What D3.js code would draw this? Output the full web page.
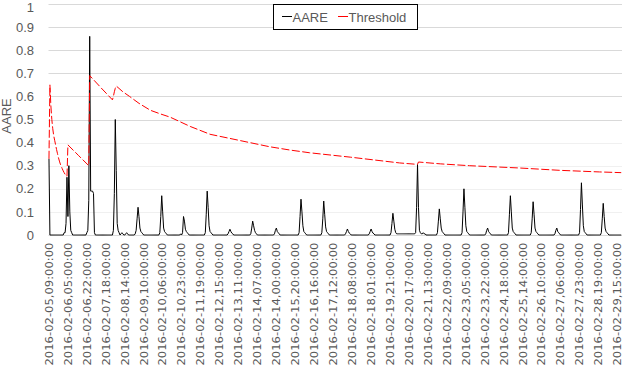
<!DOCTYPE html>
<html><head><meta charset="utf-8">
<script src="https://cdn.jsdelivr.net/npm/d3@7"></script>
<style>
html,body{margin:0;padding:0;background:#fff;}
svg{display:block;font-family:"Liberation Sans",Arial,sans-serif;}
</style></head>
<body><svg id="c" width="626" height="370"></svg>
<script>
// AARE, one value per hourly category (rows of 20 categories)
const aare = [
 .33,0,0,0,0,0,0,0,0,0,0,0,0,0,0,0,.01,.01,.05,.25,
 .08,.30,.10,.02,.01,0,0,0,0,0,0,0,0,0,0,0,0,0,0,0,
 .01,.02,.15,.86,.19,.19,.19,.18,.01,0,0,0,0,0,0,0,0,0,0,0,
 0,0,0,0,0,0,0,0,.02,.18,.50,.28,.05,.02,.01,0,.005,.01,.005,0,
 0,.005,.01,.005,0,0,0,0,0,0,0,.005,.02,.07,.12,.08,.03,.015,.01,.005,
 0,0,0,0,0,0,0,0,0,0,0,0,0,0,0,0,0,.01,.08,.17,
 .10,.03,.015,.01,.005,0,0,0,0,0,0,0,0,0,0,0,0,0,0,.005,
 0,.01,.08,.06,.025,.015,.01,.005,0,0,0,0,0,0,0,0,0,0,0,0,
 0,0,0,0,0,.01,.09,.19,.12,.04,.015,.01,.005,0,0,0,0,0,0,0,
 0,0,0,0,0,0,0,0,0,.005,.015,.025,.015,.008,.005,0,0,0,0,0,
 0,0,0,0,0,0,0,0,0,0,0,0,0,.005,.03,.06,.04,.02,.01,.005,
 0,0,0,0,0,0,0,0,0,0,0,0,0,0,0,0,0,0,.005,.02,
 .03,.015,.01,.005,0,0,0,0,0,0,0,0,0,0,0,0,0,0,0,0,
 0,0,0,0,.01,.08,.155,.10,.04,.015,.01,.005,0,0,0,0,0,0,0,0,
 0,0,0,0,0,0,0,0,.01,.07,.147,.09,.035,.015,.01,.005,0,0,0,0,
 0,0,0,0,0,0,0,0,0,0,0,0,0,.005,.015,.026,.015,.008,.005,0,
 0,0,0,0,0,0,0,0,0,0,0,0,0,0,0,0,0,0,.005,.015,
 .026,.015,.008,.005,0,0,0,0,0,0,0,0,0,0,0,0,0,0,0,0,
 0,.01,.05,.094,.06,.025,.01,.005,.005,.005,.005,.005,.005,.005,.005,.005,.005,.005,.005,.005,
 .005,.005,.005,.005,.005,.005,.005,.01,.12,.305,.12,.02,.01,.005,.005,.01,.005,.005,0,0,
 0,0,0,0,0,0,0,0,0,0,.01,.06,.113,.07,.03,.015,.01,.005,0,0,
 0,0,0,0,0,0,0,0,0,0,0,0,0,0,0,0,.01,.10,.20,.12,
 .04,.015,.01,.005,0,0,0,0,0,0,0,0,0,0,0,0,0,0,0,0,
 0,.005,.02,.03,.015,.01,.005,0,0,0,0,0,0,0,0,0,0,0,0,0,
 0,0,0,0,0,.01,.09,.17,.10,.03,.015,.01,.005,0,0,0,0,0,0,0,
 0,0,0,0,0,0,0,0,0,.01,.07,.144,.09,.03,.015,.01,.005,0,0,0,
 0,0,0,0,0,0,0,0,0,0,0,0,0,0,.005,.02,.03,.015,.01,.005,
 0,0,0,0,0,0,0,0,0,0,0,0,0,0,0,0,0,0,0,0,
 .01,.11,.226,.13,.04,.015,.01,.005,0,0,0,0,0,0,0,0,0,0,0,0,
 0,0,0,.01,.07,.137,.08,.03,.015,.01,.005,0,0,0,0,0,0,0,0,0,
 0,0,0,0,0
];

// Threshold, read at these category indices
const thresholdIdx = [0,1,2,3,4,5,6,7,8,9,10,11,12,13,14,15,16,17,18,19,20,31,42,43,55,67,68,69,70,71,78,85,95,107,117,128,149,170,191,212,233,254,275,318,370,388,389,390,413,444,497,539,581,604];
const thresholdVal = [.33,.65,.56,.50,.46,.43,.41,.39,.37,.352,.335,.32,.307,.297,.287,.278,.27,.263,.257,.254,.39,.345,.30,.69,.637,.585,.60,.62,.635,.645,.62,.60,.57,.54,.525,.51,.47,.436,.418,.40,.382,.368,.356,.337,.312,.306,.306,.316,.308,.30,.29,.28,.273,.27];

// Category-axis labels and the categories they sit on
const tickIdx = [0,20,40,60,80,100,120,140,160,180,200,220,240,260,280,300,320,340,360,380,400,420,440,460,480,500,520,540,560,580,600];
const tickLabels = ["2016-02-05,09:00:00","2016-02-06,05:00:00","2016-02-06,22:00:00","2016-02-07,18:00:00","2016-02-08,14:00:00","2016-02-09,10:00:00","2016-02-10,06:00:00","2016-02-10,23:00:00","2016-02-11,19:00:00","2016-02-12,15:00:00","2016-02-13,11:00:00","2016-02-14,07:00:00","2016-02-14,00:00:00","2016-02-15,20:00:00","2016-02-16,16:00:00","2016-02-17,12:00:00","2016-02-18,08:00:00","2016-02-18,01:00:00","2016-02-19,21:00:00","2016-02-20,17:00:00","2016-02-21,13:00:00","2016-02-22,09:00:00","2016-02-23,05:00:00","2016-02-23,22:00:00","2016-02-24,18:00:00","2016-02-25,14:00:00","2016-02-26,10:00:00","2016-02-27,06:00:00","2016-02-27,23:00:00","2016-02-28,19:00:00","2016-02-29,15:00:00"];
const yTicks = [0,0.1,0.2,0.3,0.4,0.5,0.6,0.7,0.8,0.9,1];
const seriesNames = ["AARE","Threshold"];
const seriesColors = ["#000000","#ff0000"];

const svg = d3.select("#c");
const x = d3.scaleBand().domain(d3.range(aare.length)).range([48.5, 621.7]);
const xc = i => x(i) + x.bandwidth()/2;
const y = d3.scaleLinear().domain([0,1]).range([235, 4]);

// gridlines
svg.append("g").selectAll("line").data(yTicks.filter(d=>d>0)).join("line")
  .attr("x1",48.5).attr("x2",622)
  .attr("y1",d=>Math.round(y(d))+0.5).attr("y2",d=>Math.round(y(d))+0.5)
  .attr("stroke",d=>d>=0.45?"#d9d9d9":"#f0f0f0").attr("stroke-width",1);

// y axis labels
const ya = svg.append("g").attr("transform","translate(34,0)")
  .call(d3.axisLeft(y).tickValues(yTicks).tickSize(0).tickPadding(0).tickFormat(d3.format(".1~f")));
ya.select(".domain").remove();
ya.selectAll("text").attr("fill","#595959").style("font-size","13px")
  .style("font-family","'Liberation Sans',Arial,sans-serif")
  .attr("y",d=>d===1?3:0);

// x axis
const xa = svg.append("g").attr("transform","translate(0,235.5)")
  .call(d3.axisBottom(x).tickValues(tickIdx).tickSize(0).tickFormat((d,i)=>tickLabels[i]));
xa.select(".domain").attr("stroke","#d9d9d9").attr("d","M48.5,0H622");
xa.selectAll("text")
  .attr("fill","#595959").style("font-size","10.5px").style("font-family","'DejaVu Sans',sans-serif")
  .attr("transform","rotate(-90)").attr("text-anchor","end")
  .attr("x",-7).attr("y",0).attr("dy","0.36em")
  .attr("textLength",123).attr("lengthAdjust","spacingAndGlyphs");

// y title
svg.append("text").attr("transform","translate(11,116) rotate(-90)")
  .attr("text-anchor","middle").attr("fill","#595959").style("font-size","13px").text("AARE");

// lines
const lineA = d3.line().x((d,i)=>xc(i)).y(d=>y(d));
svg.append("path").datum(aare).attr("d",lineA).attr("fill","none")
  .attr("stroke",seriesColors[0]).attr("stroke-width",1).attr("stroke-linejoin","round");
const lineT = d3.line().x(d=>xc(d[0])).y(d=>y(d[1]));
svg.append("path").datum(thresholdIdx.map((k,j)=>[k,thresholdVal[j]])).attr("d",lineT).attr("fill","none")
  .attr("stroke",seriesColors[1]).attr("stroke-width",1).attr("stroke-dasharray","8,2.5")
  .attr("stroke-linejoin","round");

// legend
const lg = svg.append("g");
lg.append("rect").attr("x",273.5).attr("y",4.5).attr("width",144).attr("height",25)
  .attr("fill","#fff").attr("stroke","#000").attr("stroke-width",1);
const legX = [282, 338];
seriesNames.forEach((n,k)=>{
  lg.append("line").attr("x1",legX[k]).attr("x2",legX[k]+10).attr("y1",16.5).attr("y2",16.5)
    .attr("stroke",seriesColors[k]).attr("stroke-width",1);
  lg.append("text").attr("x",legX[k]+10.5).attr("y",21.5).attr("fill","#595959")
    .style("font-size","13px").text(n);
});
</script></body></html>
